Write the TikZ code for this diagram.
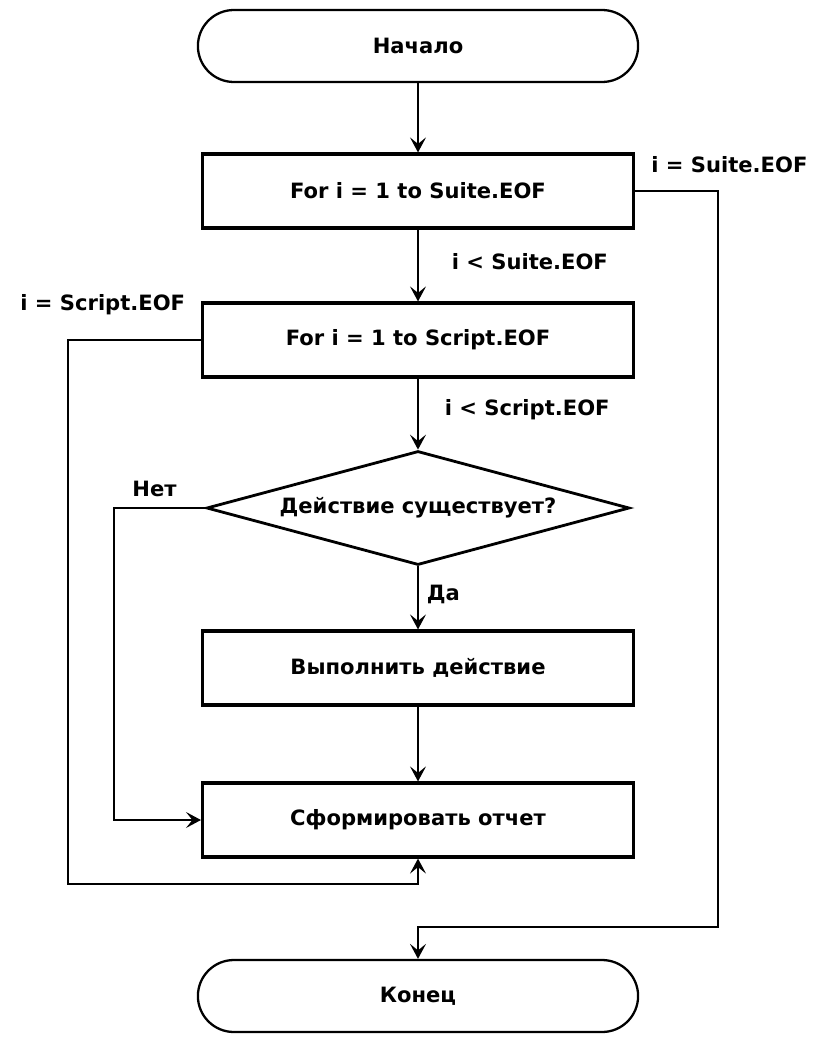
\documentclass[tikz,border=0pt]{standalone}
\usepackage{fontspec}
\setmainfont{DejaVu Sans}
\usepackage{tikz}
\usetikzlibrary{shapes.geometric,shapes.misc,arrows.meta}

\newcommand\flowfont{\fontsize{12}{14}\selectfont\bfseries}

\tikzset{
  term/.style={rounded rectangle, draw, line width=1.3pt, minimum width=9.04cm,
    minimum height=1.44cm, font=\flowfont},
  box/.style={rectangle, draw, line width=1.8pt, minimum width=8.62cm,
    minimum height=1.48cm, font=\flowfont},
  cond/.style={diamond, aspect=3.7, draw, line width=1.6pt, inner sep=0pt,
    minimum width=8.46cm, minimum height=2.28cm, font=\flowfont},
  lbl/.style={font=\flowfont, inner sep=0pt, anchor=west},
  flow/.style={line width=0.9pt,
    -{Stealth[length=3mm,width=3.2mm,inset=1.3mm]}}
}

\begin{document}
\begin{tikzpicture}[x=0.02cm,y=-0.02cm]
\useasboundingbox (0,0) rectangle (823,1038);

 \node[term] (start) at (418,46) {Начало};

 \node[box] (suite) at (418,191) {For i = 1 to Suite.EOF};

 \node[box] (script) at (418,340) {For i = 1 to Script.EOF};

 \node[cond] (check) at (418,508) {Действие существует?};

 \node[box] (act) at (418,668) {Выполнить действие};

 \node[box] (report) at (418,820) {Сформировать отчет};

 \node[term] (stop) at (418,996) {Конец};

 \coordinate (suiteTurn) at (718,191);
 \coordinate (stopIn) at (418,927);
 \coordinate (scriptTurn) at (68,340);
 \coordinate (reportIn) at (418,884);
 \coordinate (noTurn) at (114,508);

\draw [flow] (start) -- (suite);
\draw [flow] (suite) -- (script) node[lbl] (suiteLess) at (451,262) {i < Suite.EOF};
\draw [flow] (script) -- (check) node[lbl] (scriptLess) at (444,410) {i < Script.EOF};
\draw [flow] (check) -- (act) node[lbl] (yes) at (426,594) {Да};
\draw [flow] (act) -- (report);

\draw [flow] (suite.east) -- (suiteTurn) |- (stopIn) -- (stop);
\node[lbl] (suiteEnd) at (651,165) {i = Suite.EOF};

\draw [flow] (script.west) -- (scriptTurn) |- (reportIn) -- (report);
\node[lbl] (scriptEnd) at (20,305) {i = Script.EOF};

\draw [flow] (check.west) -- (noTurn) |- (report.west);
\node[lbl] (no) at (132,489) {Нет};

\end{tikzpicture}
\end{document}
